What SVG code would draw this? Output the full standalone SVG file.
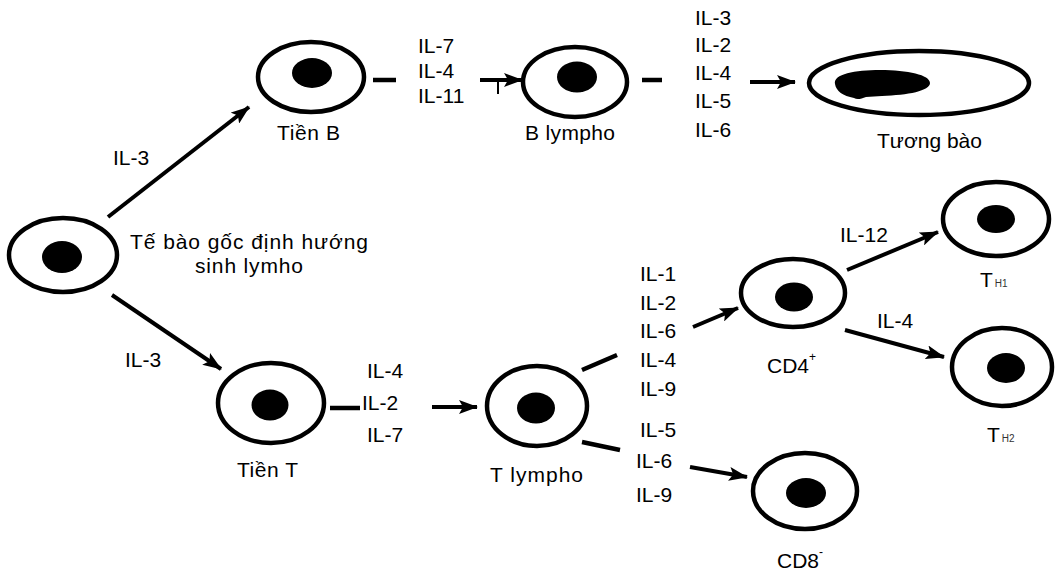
<svg xmlns="http://www.w3.org/2000/svg" width="1057" height="574" viewBox="0 0 1057 574">
  <defs>
    <marker id="head" markerUnits="userSpaceOnUse" markerWidth="20" markerHeight="14" viewBox="0 0 20 14" refX="18" refY="7" orient="auto">
      <path d="M0,0 L19,7 L0,14 L4,7 z" fill="#000"/>
    </marker>
    <style>
      text { font-family: "Liberation Sans", Arial, sans-serif; font-size: 21px; fill: #000; }
      .cell { fill: #fff; stroke: #000; stroke-width: 4.5; }
      .nuc { fill: #000; }
      .link { stroke: #000; stroke-width: 4.5; fill: none; stroke-linecap: butt; }
      .arrow { stroke: #000; stroke-width: 4; fill: none; marker-end: url(#head); }
      .sub { font-size: 10px; fill: #333; }
      .sup { font-size: 12px; }
    </style>
  </defs>
  <rect width="1057" height="574" fill="#fff"/>

  <!-- cells -->
  <g id="stem">
    <ellipse class="cell" cx="63" cy="255" rx="54" ry="37"/>
    <ellipse class="nuc" cx="62" cy="257" rx="20" ry="16"/>
    <text x="130" y="249" textLength="238">Tế bào gốc định hướng</text>
    <text x="195" y="273" textLength="108">sinh lymho</text>
  </g>

  <g id="tien-b">
    <ellipse class="cell" cx="311" cy="77" rx="53" ry="35"/>
    <ellipse class="nuc" cx="312" cy="73" rx="20" ry="15"/>
    <text x="277" y="140" textLength="63">Tiền B</text>
  </g>

  <g id="b-lympho">
    <ellipse class="cell" cx="575" cy="82" rx="52" ry="35"/>
    <ellipse class="nuc" cx="577" cy="77" rx="20" ry="15.5"/>
    <text x="525" y="140" textLength="90">B lympho</text>
  </g>

  <g id="tuong-bao">
    <ellipse class="cell" cx="919" cy="83" rx="110" ry="32"/>
    <path class="nuc" d="M835,84 C833,74 855,70 880,70 C908,70 930,75 930,83 C930,91 908,95 882,96 L866,97 C861,99 857,100 854,98 C843,96 836,91 835,84 z"/>
    <text x="877" y="148" textLength="105">Tương bào</text>
  </g>

  <g id="tien-t">
    <ellipse class="cell" cx="271" cy="403" rx="53" ry="40"/>
    <ellipse class="nuc" cx="270" cy="405" rx="18.5" ry="15.5"/>
    <text x="237" y="477" textLength="61">Tiền T</text>
  </g>

  <g id="t-lympho">
    <ellipse class="cell" cx="537" cy="406" rx="50" ry="40"/>
    <ellipse class="nuc" cx="536" cy="408" rx="19" ry="15.5"/>
    <text x="490" y="482" textLength="93">T lympho</text>
  </g>

  <g id="cd4">
    <ellipse class="cell" cx="793" cy="293" rx="52" ry="34"/>
    <ellipse class="nuc" cx="794" cy="297" rx="19" ry="14.5"/>
    <text x="767" y="373">CD4<tspan class="sup" dy="-12">+</tspan></text>
  </g>

  <g id="th1">
    <ellipse class="cell" cx="996" cy="219" rx="53" ry="37"/>
    <ellipse class="nuc" cx="996" cy="219" rx="19" ry="14"/>
    <text x="980" y="287">T<tspan class="sub" dx="2">H1</tspan></text>
  </g>

  <g id="th2">
    <ellipse class="cell" cx="1002" cy="367" rx="50" ry="39"/>
    <ellipse class="nuc" cx="1006" cy="368" rx="19" ry="15"/>
    <text x="987" y="442">T<tspan class="sub" dx="2">H2</tspan></text>
  </g>

  <g id="cd8">
    <ellipse class="cell" cx="805" cy="491" rx="52" ry="38"/>
    <ellipse class="nuc" cx="806" cy="493" rx="20" ry="15"/>
    <text x="777" y="568">CD8<tspan class="sup" dy="-12">-</tspan></text>
  </g>

  <!-- connectors -->
  <g id="connectors">
    <line class="arrow" x1="108" y1="217" x2="249" y2="107"/>
    <line class="arrow" x1="112" y1="295" x2="221" y2="369"/>

    <line class="link" x1="373" y1="80" x2="396" y2="80"/>
    <line class="arrow" x1="480" y1="80" x2="522" y2="80"/>
    <line stroke="#000" stroke-width="2" x1="498" y1="82" x2="498" y2="94"/>

    <line class="link" x1="642" y1="80" x2="662" y2="80"/>
    <line class="arrow" x1="750" y1="82" x2="795" y2="82"/>

    <line class="link" x1="330" y1="408" x2="360" y2="408"/>
    <line class="arrow" x1="432" y1="407" x2="477" y2="407"/>

    <line class="link" x1="582" y1="370" x2="617" y2="355"/>
    <line class="link" x1="582" y1="442" x2="620" y2="450"/>
    <line class="arrow" x1="693" y1="327" x2="738" y2="308"/>
    <line class="arrow" x1="690" y1="467" x2="747" y2="477"/>

    <line class="arrow" x1="847" y1="270" x2="938" y2="232"/>
    <line class="arrow" x1="845" y1="330" x2="944" y2="357"/>
  </g>

  <!-- cytokine labels -->
  <g id="labels">
    <text x="113" y="165">IL-3</text>
    <text x="125" y="367">IL-3</text>

    <text x="418" y="53">IL-7</text>
    <text x="418" y="78">IL-4</text>
    <text x="418" y="103">IL-11</text>

    <text x="695" y="25">IL-3</text>
    <text x="695" y="52">IL-2</text>
    <text x="695" y="80">IL-4</text>
    <text x="695" y="108">IL-5</text>
    <text x="695" y="137">IL-6</text>

    <text x="367" y="378">IL-4</text>
    <text x="362" y="410">IL-2</text>
    <text x="367" y="442">IL-7</text>

    <text x="640" y="281">IL-1</text>
    <text x="640" y="310">IL-2</text>
    <text x="640" y="338">IL-6</text>
    <text x="640" y="367">IL-4</text>
    <text x="640" y="396">IL-9</text>

    <text x="640" y="437">IL-5</text>
    <text x="636" y="468">IL-6</text>
    <text x="636" y="502">IL-9</text>

    <text x="840" y="242">IL-12</text>
    <text x="877" y="328">IL-4</text>
  </g>
</svg>
